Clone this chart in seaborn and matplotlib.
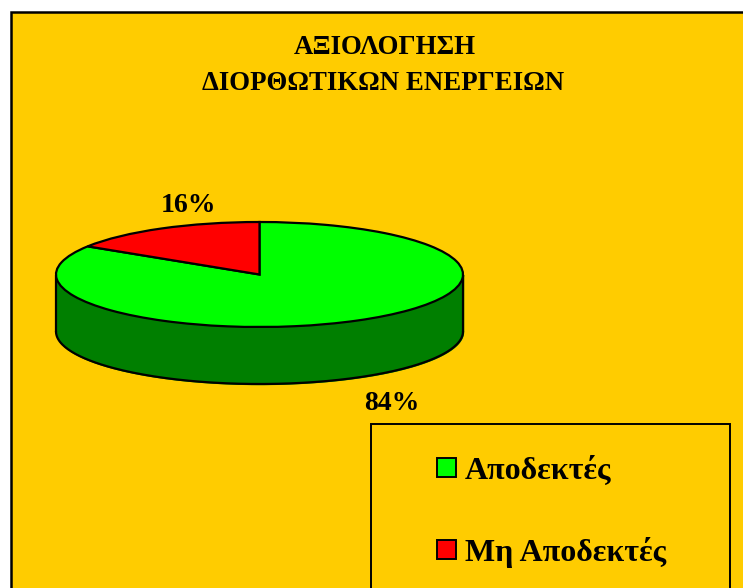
import matplotlib
matplotlib.use("Agg")
import matplotlib.pyplot as plt
from matplotlib.patches import Rectangle
import numpy as np
import seaborn as sns

W, H = 743, 588

labels = ["Αποδεκτές", "Μη Αποδεκτές"]
values = [84, 16]
pct_labels = ["84%", "16%"]
title_lines = ["ΑΞΙΟΛΟΓΗΣΗ", "ΔΙΟΡΘΩΤΙΚΩΝ ΕΝΕΡΓΕΙΩΝ"]

top_colors = sns.color_palette(["#00FF00", "#FF0000"])
side_color = "#007F00"
panel_color = "#FFCC00"

sns.set_theme(style="white")
plt.rcParams["font.family"] = ["Liberation Serif", "DejaVu Serif"]
plt.rcParams["font.weight"] = "bold"

# pie geometry in pixels, the unit circle gets squashed by the axis limits
cx, cy, rx, ry, depth = 259.5, 274.5, 203.5, 52.5, 57


def px(x, y):
    return x / W, 1 - y / H


fig = plt.figure(figsize=(W / 100, H / 100), dpi=100, facecolor="white")
panel = Rectangle(px(11, 620), 800 / W, (620 - 12) / H, transform=fig.transFigure,
                  facecolor=panel_color, edgecolor="black", linewidth=1.8, zorder=-1)
fig.add_artist(panel)

ax = fig.add_axes([0, 0, 1, 1])
ax.patch.set_alpha(0)

start = 90 + 360 * values[1] / sum(values)
edge = {"edgecolor": "black", "linewidth": 1.6}

# side of the disc: lower ellipse plus the band joining it to the top one
t = np.linspace(np.pi, 2 * np.pi, 200)
ax.fill_between(np.cos(t), np.sin(t), np.sin(t) - depth / ry, color=side_color, zorder=1)
ax.plot([-1, -1], [0, -depth / ry], color="black", lw=1.6, zorder=2)
ax.plot([1, 1], [0, -depth / ry], color="black", lw=1.6, zorder=2)
ax.plot(np.cos(t), np.sin(t) - depth / ry, color="black", lw=1.6, zorder=2)

wedges, _ = ax.pie(values, colors=top_colors, startangle=start, wedgeprops=edge)
for w in wedges:
    w.set_zorder(3)

ax.set_aspect("auto")
ax.set_xlim(-cx / rx, (W - cx) / rx)
ax.set_ylim((cy - H) / ry, cy / ry)
ax.axis("off")

for line, y, x in zip(title_lines, [48, 84], [385, 383.5]):
    fig.text(*px(x, y), line, ha="center", va="center", fontsize=19.4, color="black")

fig.text(*px(392, 403), pct_labels[0], ha="center", va="center", fontsize=20, color="black")
fig.text(*px(188, 205), pct_labels[1], ha="center", va="center", fontsize=20, color="black")

# legend frame runs off the bottom of the picture
fig.add_artist(Rectangle(px(370.5, 620), 359.5 / W, (620 - 424) / H, transform=fig.transFigure,
                         facecolor="none", edgecolor="black", linewidth=1.4))
for label, color, y in zip(labels, top_colors, [467, 549]):
    fig.add_artist(Rectangle(px(436.5, y + 9.5), 19 / W, 19 / H, transform=fig.transFigure,
                             facecolor=color, edgecolor="black", linewidth=1.4))
    fig.text(*px(465, y + 4), label, ha="left", va="center", fontsize=23, color="black")

fig.savefig("out.png", dpi=100, facecolor="white")
